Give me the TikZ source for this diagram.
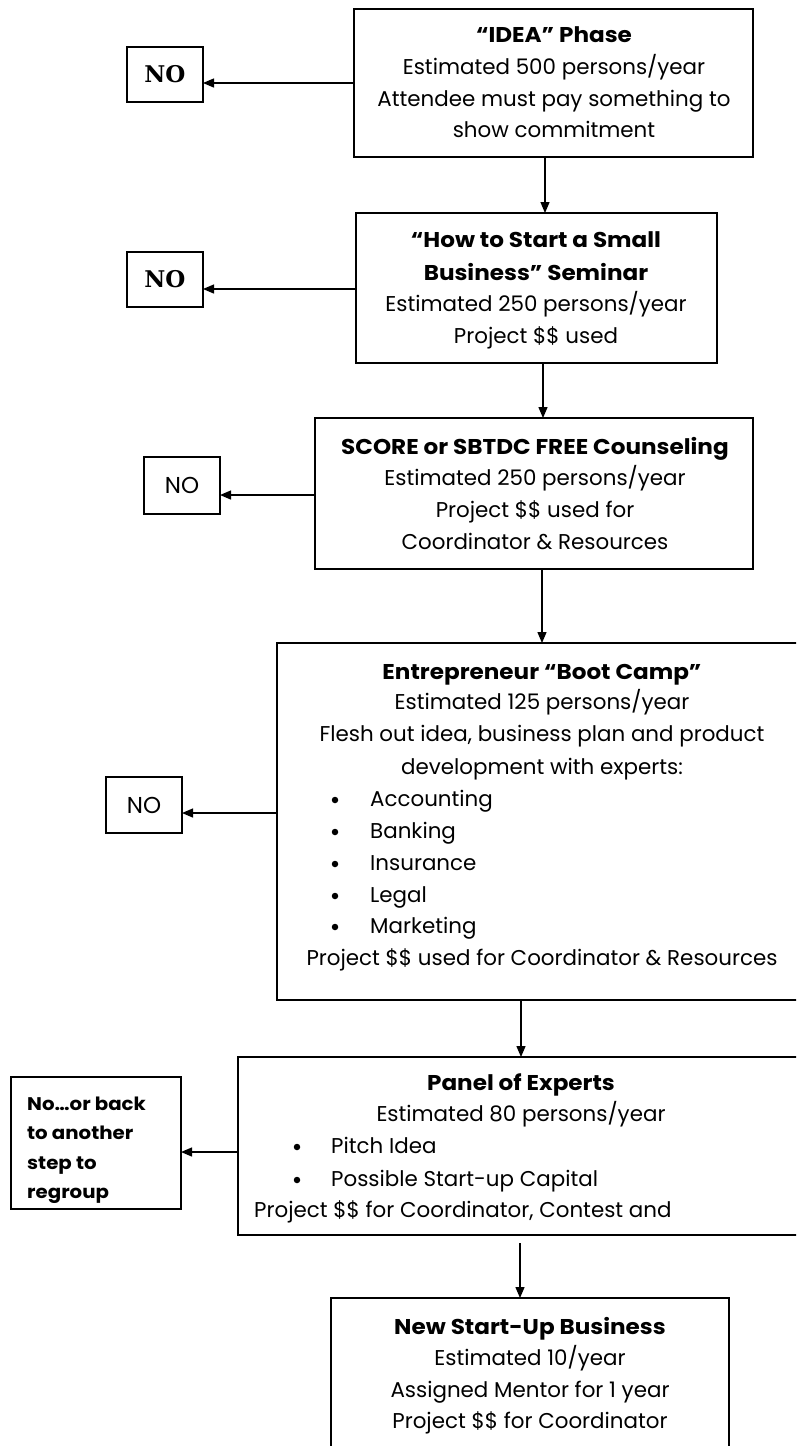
\documentclass[tikz,border=0pt]{standalone}
\usepackage{fontspec}
\newfontfamily\cs{Poppins}[BoldFeatures={FakeStretch=1.08}]
\newfontfamily\noserif{DejaVu Serif}
\usetikzlibrary{arrows.meta}
\begin{document}
\begin{tikzpicture}[x=1pt,y=-1pt,
  box/.style={draw, line width=1.3pt, inner sep=0pt, outer sep=0pt},
  ln/.style={inner sep=0pt, text height=15pt, text depth=0pt, font=\cs\fontsize{21.4}{24}\selectfont},
  bl/.style={ln, font=\cs\bfseries\fontsize{21.4}{24}\selectfont},
  dot/.style={circle, fill, inner sep=0pt, minimum size=6.5pt},
  nob/.style={box, font=\noserif\bfseries\fontsize{23}{24}\selectfont},
  nor/.style={box, font=\cs\fontsize{23}{24}\selectfont},
  arr/.style={line width=1.3pt, -{Triangle[length=11pt,width=9pt]}}]
\useasboundingbox (0,0) rectangle (796,1446);
\clip (0,0) rectangle (796,1446);
\fill[white] (0,0) rectangle (796,1446);

% main boxes
\node[box, minimum width=399pt, minimum height=148pt] (idea) at (553.5,83) {};
\node[box, minimum width=361pt, minimum height=150pt] (seminar) at (536.5,288) {};
\node[box, minimum width=438pt, minimum height=151pt] (score) at (534,493.5) {};
\node[box, minimum width=530pt, minimum height=357pt] (boot) at (542,821.5) {};
\node[box, minimum width=566pt, minimum height=178pt] (panel) at (521,1146) {};
\node[box, minimum width=398pt, minimum height=162pt] (new) at (530,1379) {};

% side boxes
\node[nob, minimum width=76pt, minimum height=55pt] (no1) at (165,74.5) {NO};
\node[nob, minimum width=76pt, minimum height=55pt] (no2) at (165,279.5) {NO};
\node[nor, minimum width=76pt, minimum height=57pt] (no3) at (182,485.5) {NO};
\node[nor, minimum width=76pt, minimum height=56pt] (no4) at (144,805) {NO};
\node[box, minimum width=170pt, minimum height=132pt] (back) at (96,1143) {};

% texts: IDEA
\node[bl] (t11) at (554,35) {“IDEA” Phase};
\node[ln] (t12) at (554,67) {Estimated 500 persons/year};
\node[ln] (t13) at (554,99) {Attendee must pay something to};
\node[ln] (t14) at (554,130) {show commitment};
% seminar
\node[bl] (t21) at (536,240) {“How to Start a Small};
\node[bl] (t22) at (536,273) {Business” Seminar};
\node[ln] (t23) at (536,304) {Estimated 250 persons/year};
\node[ln] (t24) at (536,336) {Project \$\$ used};
% score
\node[bl] (t31) at (535,447) {SCORE or SBTDC FREE Counseling};
\node[ln] (t32) at (535,478) {Estimated 250 persons/year};
\node[ln] (t33) at (535,510) {Project \$\$ used for};
\node[ln] (t34) at (535,542) {Coordinator \& Resources};
% boot camp
\node[bl] (t41) at (542,672) {Entrepreneur “Boot Camp”};
\node[ln] (t42) at (542,702) {Estimated 125 persons/year};
\node[ln] (t43) at (542,734) {Flesh out idea, business plan and product};
\node[ln] (t44) at (542,767) {development with experts:};
\foreach \y/\t [count=\i] in {799/Accounting,831/Banking,863/Insurance,895/Legal,926/Marketing}{
  \node[dot] (bb\i) at (335,\y+1) {};
  \node[ln, anchor=west] (bi\i) at (370,\y) {\t};
}
\node[ln] (t45) at (542,958) {Project \$\$ used for Coordinator \& Resources};
% panel
\node[bl] (t51) at (521,1083) {Panel of Experts};
\node[ln] (t52) at (521,1114) {Estimated 80 persons/year};
\node[dot] (pb1) at (297,1147) {};
\node[ln, anchor=west] (pi1) at (331,1146) {Pitch Idea};
\node[dot] (pb2) at (297,1180) {};
\node[ln, anchor=west] (pi2) at (331,1179) {Possible Start-up Capital};
\node[ln, anchor=west] (t53) at (254,1210) {Project \$\$ for Coordinator, Contest and};
% back box text
\foreach \y/\t [count=\i] in {1103/No…or back,1132/to another,1162/step to,1191/regroup}{
  \node[bl, anchor=west, font=\cs\bfseries\fontsize{18.3}{20}\selectfont] (nb\i) at (27,\y) {\t};
}
% new start-up
\node[bl] (t61) at (530,1327) {New Start-Up Business};
\node[ln] (t62) at (530,1358) {Estimated 10/year};
\node[ln] (t63) at (530,1390) {Assigned Mentor for 1 year};
\node[ln] (t64) at (530,1421) {Project \$\$ for Coordinator};

% connectors
\coordinate (h1) at (0,83);
\coordinate (h2) at (0,289);
\coordinate (h3) at (0,495);
\coordinate (h4) at (0,813);
\coordinate (h5) at (0,1152);
\draw[arr] (idea.west |- h1) -- (no1.east |- h1);
\draw[arr] (seminar.west |- h2) -- (no2.east |- h2);
\draw[arr] (score.west |- h3) -- (no3.east |- h3);
\draw[arr] (boot.west |- h4) -- (no4.east |- h4);
\draw[arr] (panel.west |- h5) -- (back.east |- h5);
\coordinate (v1) at (545,0);
\coordinate (v2) at (543,0);
\coordinate (v3) at (542,0);
\coordinate (v4) at (521,0);
\coordinate (v5) at (520,1243);
\draw[arr] (idea.south -| v1) -- (seminar.north -| v1);
\draw[arr] (seminar.south -| v2) -- (score.north -| v2);
\draw[arr] (score.south -| v3) -- (boot.north -| v3);
\draw[arr] (boot.south -| v4) -- (panel.north -| v4);
\draw[arr] (v5) -- (new.north -| v5);
\end{tikzpicture}
\end{document}
